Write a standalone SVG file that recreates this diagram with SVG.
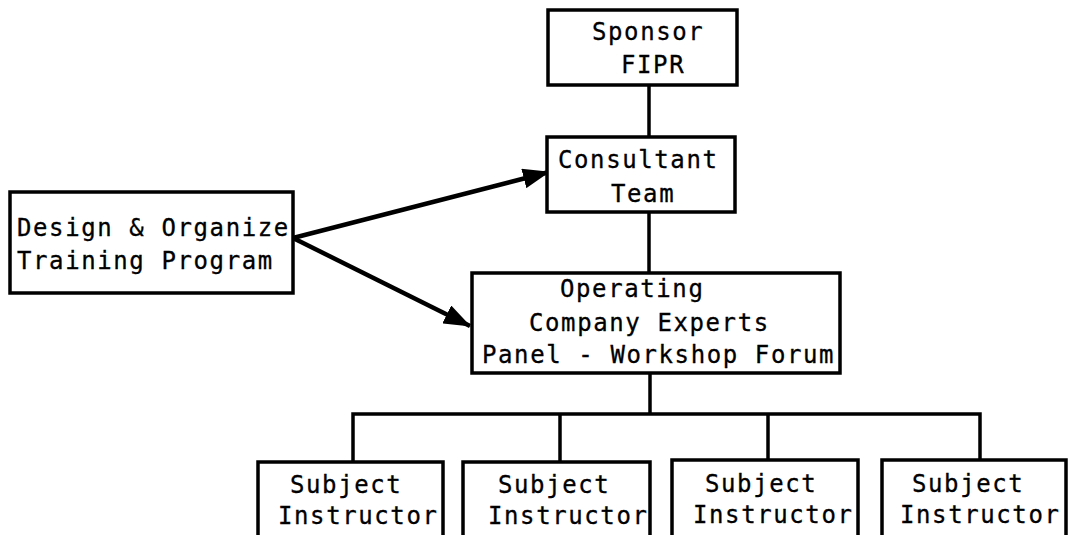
<svg xmlns="http://www.w3.org/2000/svg" width="1068" height="535" viewBox="0 0 1068 535">
<style>
.box{fill:#fff;stroke:#000;stroke-width:3.5}
.t{font-family:"DejaVu Sans Mono","Liberation Mono",monospace;font-size:24px;letter-spacing:1.6px;fill:#000;stroke:#000;stroke-width:0.3}
.ln{stroke:#000;stroke-width:3.5;fill:none}
.ar{stroke:#000;stroke-width:4.5;fill:none}
</style>
<defs>
<marker id="ah" markerUnits="userSpaceOnUse" markerWidth="28" markerHeight="20" refX="26" refY="10" orient="auto">
<path d="M0,0 L27,10 L0,20 z" fill="#000"/>
</marker>
</defs>
<rect width="1068" height="535" fill="#fff"/>
<g id="connectors">
<line class="ln" x1="649" y1="85" x2="649" y2="137"/>
<line class="ln" x1="649" y1="212" x2="649" y2="273"/>
<line class="ln" x1="650" y1="373" x2="650" y2="414"/>
<polyline class="ln" points="353,462 353,414 980,414 980,460"/>
<line class="ln" x1="560" y1="414" x2="560" y2="462"/>
<line class="ln" x1="768" y1="414" x2="768" y2="460"/>
<line class="ar" x1="293" y1="238" x2="549" y2="172" marker-end="url(#ah)"/>
<line class="ar" x1="293" y1="238" x2="470" y2="326" marker-end="url(#ah)"/>
</g>
<g id="sponsor">
<rect class="box" x="548" y="10" width="189" height="75"/>
<text class="t" x="592" y="40">Sponsor</text>
<text class="t" x="621" y="73">FIPR</text>
</g>
<g id="consultant">
<rect class="box" x="547" y="137" width="188" height="75"/>
<text class="t" x="558" y="168">Consultant</text>
<text class="t" x="611" y="202">Team</text>
</g>
<g id="design">
<rect class="box" x="10" y="192" width="283" height="101"/>
<text class="t" x="17" y="236">Design &amp; Organize</text>
<text class="t" x="17" y="269">Training Program</text>
</g>
<g id="operating">
<rect class="box" x="472" y="273" width="368" height="100"/>
<text class="t" x="560" y="297">Operating</text>
<text class="t" x="529" y="331">Company Experts</text>
<text class="t" x="482" y="363">Panel - Workshop Forum</text>
</g>
<g id="subject1">
<rect class="box" x="258" y="462" width="185" height="90"/>
<text class="t" x="290" y="493">Subject</text>
<text class="t" x="278" y="524">Instructor</text>
</g>
<g id="subject2">
<rect class="box" x="463" y="462" width="187" height="90"/>
<text class="t" x="498" y="493">Subject</text>
<text class="t" x="488" y="524">Instructor</text>
</g>
<g id="subject3">
<rect class="box" x="672" y="460" width="186" height="90"/>
<text class="t" x="705" y="492">Subject</text>
<text class="t" x="693" y="523">Instructor</text>
</g>
<g id="subject4">
<rect class="box" x="882" y="460" width="184" height="90"/>
<text class="t" x="912" y="492">Subject</text>
<text class="t" x="900" y="523">Instructor</text>
</g>
</svg>
